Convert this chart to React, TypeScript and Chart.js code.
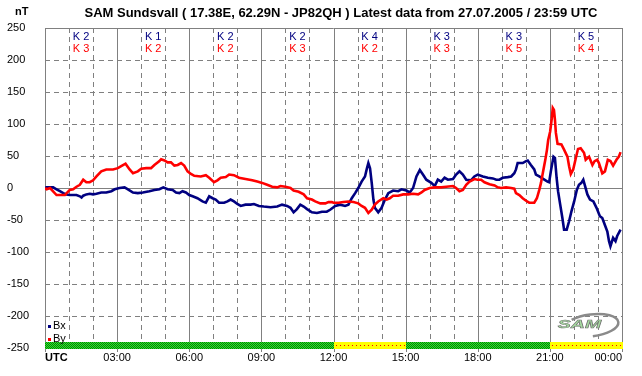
import React, { useEffect, useRef } from "react";
import { Chart, registerables } from "chart.js";

Chart.register(...registerables);

const FONT = '"Liberation Sans", Arial, Helvetica, sans-serif';

const titleText =
  "SAM Sundsvall ( 17.38E, 62.29N - JP82QH ) Latest data from 27.07.2005 / 23:59 UTC";
const unitLabel = "nT";
const xTickLabels = ["UTC", "03:00", "06:00", "09:00", "12:00", "15:00", "18:00", "21:00", "00:00"];
const kBx = [2, 1, 2, 2, 4, 3, 3, 5];
const kBy = [3, 2, 2, 3, 2, 3, 5, 4];
const statusStart = [0, 12, 15, 21];
const statusEnd = [12, 15, 21, 24];
const statusLevel = ["quiet", "active", "quiet", "active"];
const seriesNames = ["Bx", "By"];

const bxHours = [
  0, 0.07, 0.34, 0.48, 0.62, 0.76, 0.9, 1.03, 1.31, 1.45, 1.52, 1.59, 1.72, 1.86, 2.0, 2.14, 2.34, 2.55,
  2.76, 2.9, 3.1, 3.31, 3.45, 3.66, 3.86, 4.07, 4.34, 4.55, 4.76, 4.92, 5.1, 5.31, 5.45, 5.59, 5.72, 5.86,
  6.0, 6.14, 6.34, 6.55, 6.69, 6.83, 6.97, 7.1, 7.24, 7.45, 7.59, 7.72, 7.86, 8.0, 8.14, 8.34, 8.55, 8.69,
  8.9, 9.1, 9.38, 9.66, 9.86, 10.07, 10.21, 10.34, 10.48, 10.62, 10.76, 10.9, 11.1, 11.31, 11.52, 11.72,
  11.86, 12.0, 12.07, 12.28, 12.48, 12.62, 12.76, 12.9, 13.03, 13.17, 13.31, 13.38, 13.45, 13.52, 13.59,
  13.66, 13.72, 13.86, 14.0, 14.14, 14.28, 14.48, 14.69, 14.83, 15.03, 15.17, 15.31, 15.45, 15.59, 15.72,
  15.86, 16.07, 16.21, 16.34, 16.48, 16.62, 16.76, 16.97, 17.1, 17.24, 17.38, 17.52, 17.72, 17.86, 18.0,
  18.21, 18.42, 18.63, 18.77, 18.9, 19.04, 19.25, 19.39, 19.52, 19.59, 19.66, 19.87, 20.01, 20.08, 20.21,
  20.35, 20.42, 20.56, 20.77, 20.9, 20.97, 21.04, 21.15, 21.21, 21.28, 21.34, 21.43, 21.52, 21.59, 21.7,
  21.8, 21.9, 22.01, 22.12, 22.21, 22.31, 22.39, 22.45, 22.56, 22.67, 22.81, 22.94, 23.08, 23.18, 23.28,
  23.39, 23.46, 23.52, 23.63, 23.73, 23.8, 23.94,
];
const bxValues = [
  0, 1, 1, -2, -5, -8, -10, -11, -11, -13, -15, -12, -10, -9, -10, -9, -7, -7,
  -5, -2, 0, 1, -2, -7, -8, -7, -5, -3, -2, 1, -2, -3, -7, -8, -5, -7,
  -11, -13, -16, -21, -23, -13, -16, -18, -23, -23, -21, -18, -21, -25, -28, -26, -26, -25,
  -28, -29, -30, -29, -26, -28, -31, -38, -33, -26, -29, -33, -38, -39, -37, -37,
  -34, -30, -28, -26, -28, -26, -16, -8, 0, 10, 18, 29, 39, 31, 8,
  -18, -31, -38, -31, -18, -8, -4, -5, -2, -4, -7, 0, 18, 28, 21,
  13, 8, 3, 13, 10, 16, 13, 14, 21, 26, 21, 13, 12, 18, 21,
  18, 16, 15, 13, 13, 16, 17, 18, 23, 29, 39, 39, 42, 43, 36,
  29, 21, 18, 13, 10, 9, 26, 49, 47, 16, -5, -26, -47, -65, -65,
  -52, -36, -21, -3, 5, 8, 13, 5, -10, -18, -21, -31, -44, -47, -57,
  -68, -83, -91, -78, -83, -75, -65,
];

const byHours = [
  0, 0.07, 0.21, 0.48, 0.83, 0.9, 1.03, 1.17, 1.31, 1.45, 1.59, 1.72, 1.86, 2.0, 2.14, 2.34, 2.55, 2.83,
  3.03, 3.17, 3.35, 3.52, 3.66, 3.86, 4.0, 4.21, 4.41, 4.55, 4.76, 4.83, 4.97, 5.1, 5.24, 5.38, 5.52, 5.66,
  5.79, 5.93, 6.07, 6.21, 6.48, 6.69, 6.83, 7.03, 7.17, 7.31, 7.52, 7.66, 7.86, 8.07, 8.34, 8.62, 8.83,
  9.03, 9.24, 9.45, 9.66, 9.79, 10.0, 10.21, 10.34, 10.55, 10.76, 10.9, 11.1, 11.24, 11.45, 11.66, 11.79,
  11.93, 12.0, 12.21, 12.41, 12.62, 12.83, 13.03, 13.17, 13.31, 13.45, 13.59, 13.72, 13.86, 14.07, 14.21,
  14.34, 14.48, 14.69, 14.9, 15.1, 15.31, 15.52, 15.66, 15.79, 16.0, 16.21, 16.48, 16.69, 16.97, 17.1,
  17.24, 17.38, 17.52, 17.66, 17.86, 18.0, 18.14, 18.28, 18.49, 18.7, 18.83, 18.97, 19.18, 19.39, 19.52,
  19.59, 19.73, 19.87, 20.01, 20.14, 20.35, 20.46, 20.56, 20.63, 20.72, 20.81, 20.88, 20.93, 21.01, 21.08,
  21.12, 21.17, 21.21, 21.25, 21.32, 21.48, 21.59, 21.73, 21.8, 21.87, 21.97, 22.08, 22.17, 22.28, 22.42,
  22.49, 22.63, 22.77, 22.86, 22.97, 23.04, 23.18, 23.29, 23.41, 23.52, 23.63, 23.77, 23.87, 23.94,
];
const byValues = [
  0, -2, 0, -11, -11, -8, -3, -2, 2, 5, 13, 9, 9, 12, 18, 26, 29, 29,
  31, 34, 38, 29, 23, 26, 30, 31, 31, 36, 42, 45, 43, 40, 40, 35, 36, 39,
  35, 26, 22, 19, 18, 20, 16, 9, 12, 16, 17, 21, 20, 16, 14, 12, 10,
  8, 5, 2, 1, 3, 2, 0, -4, -6, -10, -16, -18, -21, -24, -24, -22,
  -22, -23, -23, -22, -21, -22, -24, -28, -31, -39, -34, -26, -21, -16, -18,
  -16, -12, -12, -10, -10, -9, -10, -7, -3, 0, 1, 1, 2, 3, 0,
  -5, -3, 5, 10, 14, 13, 13, 9, 6, 4, 1, 0, 1, 0, -1,
  -8, -11, -16, -20, -23, -23, -16, -3, 8, 26, 44, 60, 75, 88, 109,
  125, 122, 107, 86, 69, 68, 60, 49, 34, 22, 29, 47, 61, 62, 55,
  44, 49, 36, 42, 44, 39, 23, 26, 44, 42, 35, 44, 49, 56,
];

const BLUE = "#000080";
const RED = "#ff0000";
const GRID = "#808080";

function makeCheckerPattern(ctx: CanvasRenderingContext2D, a: string, b: string) {
  const c = document.createElement("canvas");
  c.width = 2;
  c.height = 2;
  const g = c.getContext("2d")!;
  g.fillStyle = a;
  g.fillRect(0, 0, 2, 2);
  g.fillStyle = b;
  g.fillRect(0, 0, 1, 1);
  g.fillRect(1, 1, 1, 1);
  return ctx.createPattern(c, "repeat");
}

const decorPlugin = {
  id: "decor",
  beforeDatasetsDraw(chart: any) {
    const { ctx, chartArea: a, scales } = chart;
    const x = scales.x;
    const y = scales.y;
    ctx.save();
    ctx.lineWidth = 1;
    ctx.strokeStyle = GRID;
    y.ticks.forEach((t: any) => {
      const py = Math.round(y.getPixelForValue(t.value)) + 0.5;
      ctx.setLineDash(t.value === 0 || t.value === 250 ? [] : [5, 4]);
      ctx.beginPath();
      ctx.moveTo(a.left, py);
      ctx.lineTo(a.right, py);
      ctx.stroke();
    });
    x.ticks.forEach((t: any) => {
      const px = Math.round(x.getPixelForValue(t.value)) + 0.5;
      const major = t.value % 3 === 0;
      ctx.setLineDash(major ? [] : [5, 4]);
      ctx.beginPath();
      ctx.moveTo(px, a.top);
      ctx.lineTo(px, a.bottom + 4);
      ctx.stroke();
    });
    ctx.setLineDash([]);
    // status bar
    const barTop = Math.round(y.getPixelForValue(-250)) - 6;
    const barBot = Math.round(y.getPixelForValue(-250)) + 1;
    const green = makeCheckerPattern(ctx, "#33dd33", "#008800");
    for (let i = 0; i < statusStart.length; i++) {
      const x0 = Math.round(x.getPixelForValue(statusStart[i]));
      const x1 = Math.round(x.getPixelForValue(statusEnd[i])) + 1;
      if (statusLevel[i] === "quiet") {
        ctx.fillStyle = green as any;
        ctx.fillRect(x0, barTop, x1 - x0, barBot - barTop);
      } else {
        ctx.fillStyle = "#ffff00";
        ctx.fillRect(x0, barTop, x1 - x0, barBot - barTop);
        ctx.fillStyle = "#ff0000";
        for (let px = x0 + 2; px < x1 - 1; px += 4) {
          ctx.fillRect(px, barTop + 3, 1, 1);
        }
      }
    }
    // SAM logo
    const lx = x.getPixelForValue(22.4);
    const ly = y.getPixelForValue(-213);
    ctx.strokeStyle = "#8a8a8a";
    ctx.lineWidth = 2.5;
    ctx.beginPath();
    ctx.ellipse(lx + 8, ly + 1, 27, 11, -0.12, Math.PI * 1.25, Math.PI * 2.5);
    ctx.stroke();
    ctx.save();
    ctx.translate(lx - 4, ly + 1);
    ctx.scale(1.5, 0.85);
    ctx.font = `italic bold 13px ${FONT}`;
    ctx.textAlign = "center";
    ctx.textBaseline = "middle";
    ctx.fillStyle = "#a6dca0";
    ctx.fillText("SAM", 0, 0);
    ctx.lineWidth = 0.6;
    ctx.strokeStyle = "#707070";
    ctx.strokeText("SAM", 0, 0);
    ctx.restore();
    ctx.restore();
  },
  afterDraw(chart: any) {
    const { ctx, chartArea: a, scales } = chart;
    const x = scales.x;
    const y = scales.y;
    ctx.save();
    ctx.fillStyle = "#000";
    ctx.textBaseline = "middle";
    ctx.font = `bold 13px ${FONT}`;
    ctx.textAlign = "center";
    ctx.fillText(titleText, 341, 13);
    ctx.font = `bold 11px ${FONT}`;
    ctx.textAlign = "left";
    ctx.fillText(unitLabel, 15, 12);
    ctx.font = `11px ${FONT}`;
    ctx.textAlign = "center";
    for (let i = 0; i < kBx.length; i++) {
      const cx = x.getPixelForValue(i * 3 + 1.5);
      ctx.fillStyle = BLUE;
      ctx.fillText("K " + kBx[i], cx, 37);
      ctx.fillStyle = RED;
      ctx.fillText("K " + kBy[i], cx, 49);
    }
    ctx.textAlign = "left";
    const lgx = a.left + 3;
    const colors = [BLUE, RED];
    const rows = [y.getPixelForValue(-215), y.getPixelForValue(-236)];
    for (let i = 0; i < seriesNames.length; i++) {
      ctx.fillStyle = colors[i];
      ctx.fillRect(lgx, Math.round(rows[i]) - 1, 3, 3);
      ctx.fillStyle = "#000";
      ctx.fillText(seriesNames[i], lgx + 5, rows[i]);
    }
    ctx.restore();
  },
};

export default function App() {
  const ref = useRef<HTMLCanvasElement>(null);
  useEffect(() => {
    if (!ref.current) return;
    const chart = new Chart(ref.current, {
      type: "line",
      data: {
        datasets: [
          {
            label: seriesNames[0],
            data: bxHours.map((h, i) => ({ x: h, y: bxValues[i] })),
            borderColor: BLUE,
            borderWidth: 2.6,
            pointRadius: 0,
            tension: 0,
            order: 1,
          },
          {
            label: seriesNames[1],
            data: byHours.map((h, i) => ({ x: h, y: byValues[i] })),
            borderColor: RED,
            borderWidth: 2.6,
            pointRadius: 0,
            tension: 0,
            order: 0,
          },
        ],
      },
      plugins: [decorPlugin],
      options: {
        animation: false,
        responsive: false,
        devicePixelRatio: 1,
        layout: { padding: { left: 7, top: 28, right: 20, bottom: 0 } },
        plugins: { legend: { display: false }, tooltip: { enabled: false }, title: { display: false } },
        scales: {
          x: {
            type: "linear",
            min: 0,
            max: 24,
            grid: { display: false, drawTicks: false },
            border: { display: false },
            afterFit: (s: any) => {
              s.height = 28;
            },
            ticks: {
              stepSize: 1,
              autoSkip: false,
              maxRotation: 0,
              minRotation: 0,
              align: "inner",
              padding: 3,
              color: "#000",
              font: (c: any) =>
                c.tick && c.tick.value === 0
                  ? { family: FONT, size: 11, weight: "bold" }
                  : { family: FONT, size: 11 },
              callback: (v: any) => (Number(v) % 3 === 0 ? xTickLabels[Number(v) / 3] : ""),
            },
          },
          y: {
            min: -250,
            max: 250,
            grid: { display: false, drawTicks: false },
            border: { display: false },
            afterFit: (s: any) => {
              s.width = 38;
            },
            ticks: {
              stepSize: 50,
              crossAlign: "far",
              color: "#000",
              font: { family: FONT, size: 11 },
            },
          },
        },
      },
    });
    return () => chart.destroy();
  }, []);
  return (
    <div style={{ position: "absolute", left: 0, top: 0, width: 642, height: 376, background: "#fff" }}>
      <canvas ref={ref} width={642} height={376} style={{ display: "block" }} />
    </div>
  );
}
